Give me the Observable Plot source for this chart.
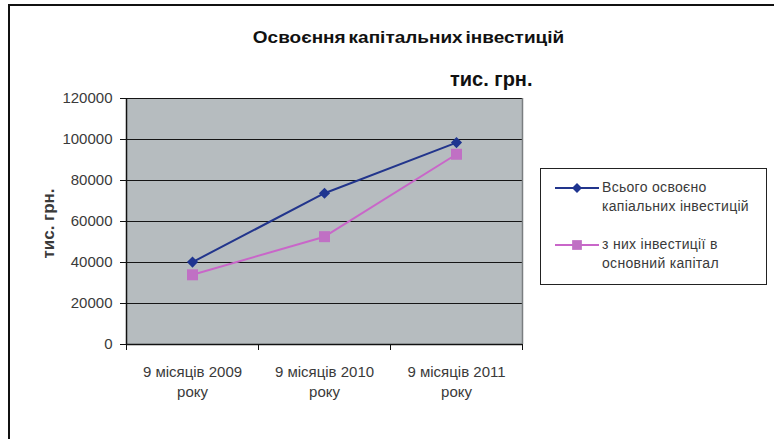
<!DOCTYPE html>
<html>
<head>
<meta charset="utf-8">
<script src="https://cdn.jsdelivr.net/npm/d3@7"></script>
<script src="https://cdn.jsdelivr.net/npm/@observablehq/plot@0.6"></script>
<style>
  body { margin: 0; background: #fff; }
  #wrap { position: relative; width: 774px; height: 439px; overflow: hidden; font-family: "Liberation Sans", Arial, sans-serif; }
  #frameTop { position: absolute; left: 8px; top: 4px; width: 770px; height: 0; border-top: 2px solid #111; }
  #frameLeft { position: absolute; left: 8px; top: 4px; width: 0; height: 440px; border-left: 2px solid #111; }
  #title { position: absolute; left: 10px; width: 800px; top: 28px; line-height: 19px; text-align: center; font-weight: bold; font-size: 16.5px; word-spacing: -2px; color: #111; transform: scaleX(1.15); transform-origin: 410px 0; }
  #unit { position: absolute; left: 450px; top: 68px; line-height: 23px; font-weight: bold; font-size: 20px; color: #111; }
  #legend { position: absolute; left: 540px; top: 168px; width: 227px; height: 117px; border: 1px solid #222; box-sizing: border-box; background: #fff; }
  .item { position: absolute; left: 14px; display: flex; align-items: flex-start; font-size: 14px; letter-spacing: 0.3px; color: #3a3a3a; line-height: 19px; }
  .item svg { flex: none; margin-top: 1px; }
  svg text { fill: #3a3a3a; }
</style>
</head>
<body>
<div id="wrap">
  <div id="chart"></div>
  <div id="frameTop"></div>
  <div id="frameLeft"></div>
  <div id="title">Освоєння капітальних інвестицій</div>
  <div id="unit">тис. грн.</div>
  <div id="legend"></div>
</div>
<script>
const categories = ["9 місяців 2009\nроку", "9 місяців 2010\nроку", "9 місяців 2011\nроку"];
const seriesNames = ["Всього освоєно\nкапіальних інвестицій", "з них інвестиції  в\nосновний капітал"];
const totalInvest = [40200, 73800, 98500];
const fixedCapital = [34000, 52600, 92800];
const yTicks = [0, 20000, 40000, 60000, 80000, 100000, 120000];
const seriesColors = ["#22358c", "#c966c9"];
const markerFills = ["#1f3590", "#c070c4"];
const symbols = ["diamond2", "square"];

const rowsTotal = totalInvest.map((v, i) => ({series: seriesNames[0], idx: i, value: v}));
const rowsFixed = fixedCapital.map((v, i) => ({series: seriesNames[1], idx: i, value: v}));
const rows = rowsTotal.concat(rowsFixed);

const plot = Plot.plot({
  width: 774,
  height: 439,
  marginLeft: 126,
  marginRight: 252,
  marginTop: 98,
  marginBottom: 95,
  style: {fontFamily: "'Liberation Sans', Arial, sans-serif", fontSize: "14px", background: "transparent", color: "#3a3a3a"},
  x: {domain: [-0.5, 2.5], axis: null, label: null},
  y: {domain: [0, 120000], axis: null, label: null},
  color: {domain: seriesNames, range: seriesColors},
  marks: [
    Plot.frame({fill: "#b6bcbf", stroke: null}),
    Plot.gridY(yTicks, {stroke: "#151515", strokeOpacity: 1, strokeWidth: 1.2}),
    Plot.ruleX([2.5], {stroke: "#7a7e80", strokeWidth: 1.5}),
    Plot.ruleY([0], {stroke: "#111", strokeWidth: 1.5}),
    Plot.ruleX([-0.5], {stroke: "#111", strokeWidth: 1.5}),
    Plot.axisY({ticks: yTicks, label: null, tickSize: 6, tickPadding: 8, tickFormat: d3.format("d"), fontSize: 15, letterSpacing: 0.7, stroke: "#111"}),
    Plot.axisX({ticks: [-0.5, 0.5, 1.5, 2.5], label: null, tickSize: 6, tickFormat: () => "", stroke: "#111"}),
    Plot.axisX({ticks: [0, 1, 2], label: null, tickSize: 0, tickPadding: 18, tickFormat: i => categories[i], fontSize: 15, letterSpacing: 0.5, lineHeight: 1.35}),
    Plot.text(["тис. грн."], {frameAnchor: "left", textAnchor: "middle", rotate: -90, dx: -78, dy: 2, fontWeight: "bold", fontSize: 17, fill: "#111"}),
    Plot.line(rows, {x: "idx", y: "value", stroke: "series", strokeWidth: 2}),
    Plot.dot(rowsTotal, {x: "idx", y: "value", symbol: symbols[0], fill: markerFills[0], r: 5, stroke: "none"}),
    Plot.dot(rowsFixed, {x: "idx", y: "value", symbol: symbols[1], fill: markerFills[1], r: 6.2, stroke: "none"})
  ]
});
document.getElementById("chart").appendChild(plot);

// legend
const legend = document.getElementById("legend");
const symbolPaths = {
  "diamond2": d3.symbol(d3.symbolDiamond2, Math.PI * 4.5 * 4.5)(),
  "square": d3.symbol(d3.symbolSquare, Math.PI * 5.5 * 5.5)()
};
seriesNames.forEach((name, s) => {
  const item = document.createElement("div");
  item.className = "item";
  item.style.top = (s === 0 ? 9 : 66) + "px";
  item.innerHTML = `<svg width="47" height="18"><line x1="0" x2="44" y1="9" y2="9" stroke="${seriesColors[s]}" stroke-width="2"></line><path transform="translate(22,9)" d="${symbolPaths[symbols[s]]}" fill="${markerFills[s]}"></path></svg><div>${name.replace("\n", "<br>")}</div>`;
  legend.appendChild(item);
});
</script>
</body>
</html>
